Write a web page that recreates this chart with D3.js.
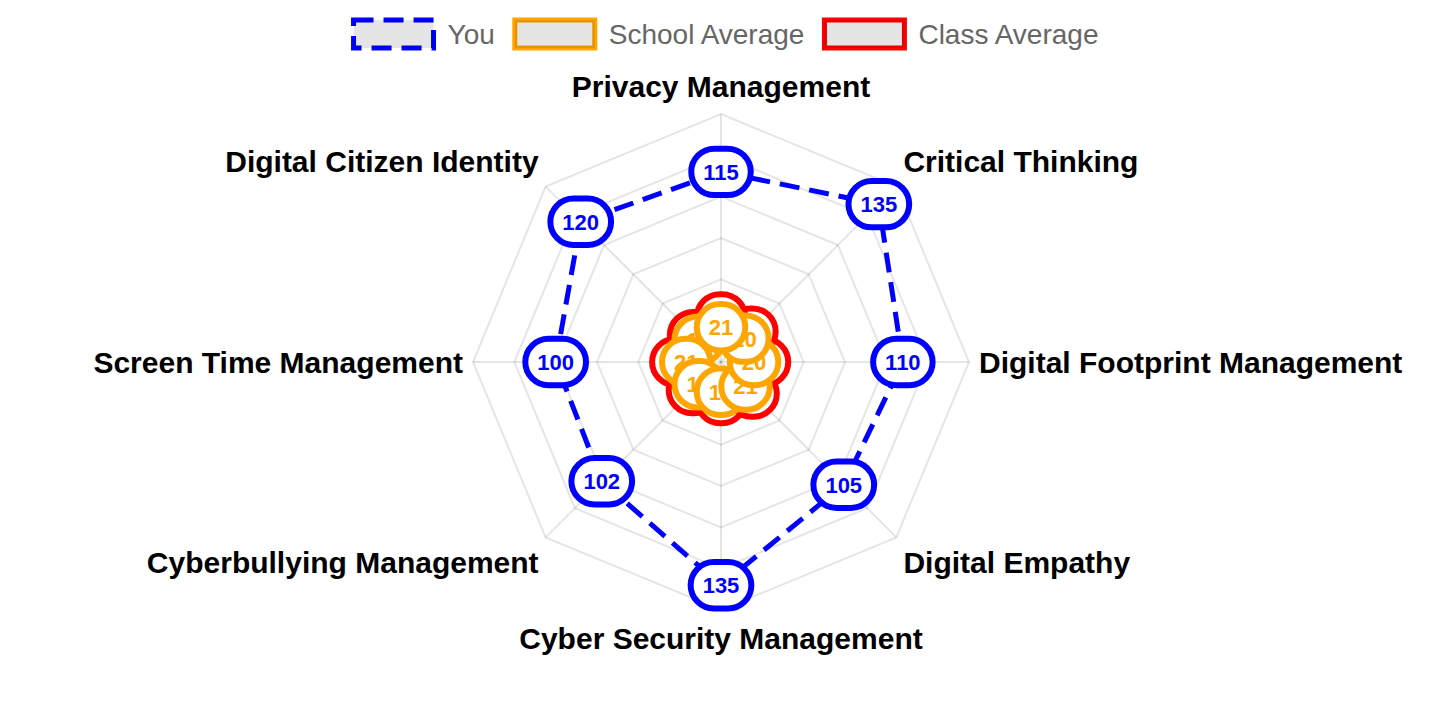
<!DOCTYPE html>
<html>
<head>
<meta charset="utf-8">
<script src="https://cdn.jsdelivr.net/npm/d3@7"></script>
<style>
  html, body { margin: 0; padding: 0; background: #fff; }
  svg { display: block; }
</style>
</head>
<body>
<svg id="chart" width="1452" height="726"></svg>
<script>
const categories = [
  "Privacy Management",
  "Critical Thinking",
  "Digital Footprint Management",
  "Digital Empathy",
  "Cyber Security Management",
  "Cyberbullying Management",
  "Screen Time Management",
  "Digital Citizen Identity"
];
const seriesNames = ["You", "School Average", "Class Average"];
const youValues = [115, 135, 110, 105, 135, 102, 100, 120];
const schoolValues = [21, 20, 20, 21, 18, 19, 21, 19];
const classValues = [27, 26, 26, 27, 23, 24, 27, 23];
const ringTicks = [25, 50, 75, 100, 125, 150];
const scaleMax = 150;

const W = 1452, H = 726;
const cx = 721, cy = 362, R = 248;
const svg = d3.select("#chart");
const FONT = "'Liberation Sans', Arial, Helvetica, sans-serif";

const rScale = d3.scaleLinear().domain([0, scaleMax]).range([0, R]);
const angle = d3.scaleLinear().domain([0, categories.length]).range([0, 2 * Math.PI]);

const styles = [
  { color: "#0000ff", dash: "20,10", width: 5 },
  { color: "#ffa500", dash: null, width: 5 },
  { color: "#ff0000", dash: null, width: 5 }
];
const datasets = [youValues, schoolValues, classValues];

const g = svg.append("g").attr("transform", `translate(${cx},${cy})`);

// grid rings (polygonal)
const ringLine = d3.lineRadial().curve(d3.curveLinearClosed)
  .angle((d, i) => angle(i)).radius(d => d);
ringTicks.forEach(t => {
  g.append("path")
    .attr("d", ringLine(categories.map(() => rScale(t))))
    .attr("fill", "none")
    .attr("stroke", "rgba(0,0,0,0.1)")
    .attr("stroke-width", 2);
});
// angle lines
categories.forEach((c, i) => {
  const a = angle(i);
  g.append("line")
    .attr("x1", 0).attr("y1", 0)
    .attr("x2", Math.sin(a) * R).attr("y2", -Math.cos(a) * R)
    .attr("stroke", "rgba(0,0,0,0.1)")
    .attr("stroke-width", 2);
});

// point labels
const labelR = R + 10;
categories.forEach((c, i) => {
  const a = angle(i);
  const s = Math.sin(a), co = Math.cos(a);
  const px = s * labelR, py = -co * labelR;
  let anchor = "middle";
  if (s > 0.01) anchor = "start"; else if (s < -0.01) anchor = "end";
  const boxH = 36;
  let yc = py;
  if (co > 0.01) yc = py - boxH / 2; else if (co < -0.01) yc = py + boxH / 2;
  g.append("text")
    .attr("x", px).attr("y", yc)
    .attr("dy", "0.35em")
    .attr("text-anchor", anchor)
    .attr("font-family", FONT)
    .attr("font-weight", "bold")
    .attr("font-size", 30)
    .attr("fill", "#000")
    .text(c);
});

// dataset lines (drawn last dataset first)
const dataLine = d3.lineRadial().curve(d3.curveLinearClosed)
  .angle((d, i) => angle(i)).radius(d => rScale(d));
for (let k = datasets.length - 1; k >= 0; k--) {
  g.append("path")
    .attr("d", dataLine(datasets[k]))
    .attr("fill", "none")
    .attr("stroke", styles[k].color)
    .attr("stroke-width", styles[k].width)
    .attr("stroke-dasharray", styles[k].dash)
    .attr("stroke-linejoin", "miter");
}

// data labels (reverse order so first dataset / first index on top)
const padX = 12, padY = 10, lineH = 26.4, bw = 6;
for (let k = datasets.length - 1; k >= 0; k--) {
  const vals = datasets[k];
  for (let i = vals.length - 1; i >= 0; i--) {
    const a = angle(i), r = rScale(vals[i]);
    const x = Math.sin(a) * r, y = -Math.cos(a) * r;
    const lg = g.append("g").attr("transform", `translate(${x},${y})`);
    const rect = lg.append("rect");
    const txt = lg.append("text")
      .attr("x", 0).attr("y", 0).attr("dy", "0.36em")
      .attr("text-anchor", "middle")
      .attr("font-family", FONT)
      .attr("font-weight", "bold")
      .attr("font-size", 22)
      .attr("fill", styles[k].color)
      .text(vals[i]);
    const tw = txt.node().getComputedTextLength();
    const w = tw + 2 * padX, h = lineH + 2 * padY;
    const rad = Math.min(w, h) / 2;
    rect.attr("x", -w / 2).attr("y", -h / 2)
      .attr("width", w).attr("height", h)
      .attr("rx", rad).attr("ry", rad)
      .attr("fill", "#fff")
      .attr("stroke", styles[k].color)
      .attr("stroke-width", bw);
  }
}

// legend
const legend = svg.append("g");
const boxW = 80, boxH = 28, gapText = 14, itemGap = 20, fs = 28, boxTop = 20;
const items = seriesNames.map((n, k) => {
  const gi = legend.append("g");
  const t = gi.append("text")
    .attr("font-family", FONT)
    .attr("font-size", fs)
    .attr("fill", "#666")
    .text(n);
  return { gi, t, w: t.node().getComputedTextLength(), k };
});
const total = d3.sum(items, d => boxW + gapText + d.w) + itemGap * (items.length - 1);
let lx = (W - total) / 2;
items.forEach(it => {
  const st = styles[it.k];
  it.gi.insert("rect", "text")
    .attr("x", lx).attr("y", boxTop).attr("width", boxW).attr("height", boxH)
    .attr("fill", "none")
    .attr("stroke", st.color)
    .attr("stroke-width", 5)
    .attr("stroke-dasharray", st.dash);
  it.gi.insert("rect", "text")
    .attr("x", lx).attr("y", boxTop).attr("width", boxW).attr("height", boxH)
    .attr("fill", "rgba(0,0,0,0.1)");
  it.t.attr("x", lx + boxW + gapText).attr("y", boxTop + boxH / 2).attr("dy", "0.35em");
  lx += boxW + gapText + it.w + itemGap;
});
</script>
</body>
</html>
